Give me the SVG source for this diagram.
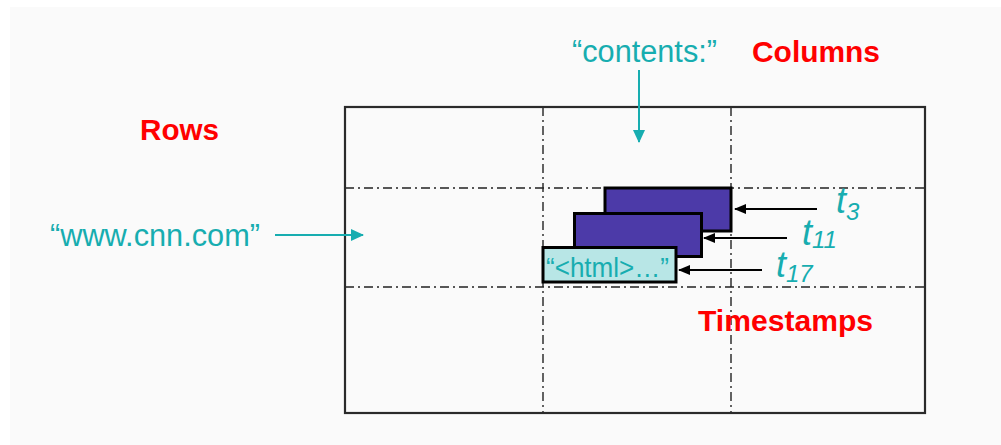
<svg xmlns="http://www.w3.org/2000/svg" width="1001" height="445" viewBox="0 0 1001 445">
  <style>
    .teal { fill: #17adb0; font-family: "Liberation Sans", Arial, sans-serif; }
    .red { fill: #ff0000; font-family: "Liberation Sans", Arial, sans-serif; font-weight: bold; font-size: 30px; }
    .grid { stroke: #222; stroke-width: 1.4; stroke-dasharray: 9 4 2 4; fill: none; }
    .cell { stroke: #000; stroke-width: 3; }
    .blk { stroke: #000; stroke-width: 2; }
    .tl { stroke: #17adb0; stroke-width: 2; }
    .tlab { font-style: italic; font-size: 36px; }
    .sub { font-size: 24px; }
  </style>
  <defs>
    <marker id="ah" markerWidth="12" markerHeight="10" refX="11" refY="5" orient="auto" markerUnits="userSpaceOnUse">
      <path d="M0,0 L12,5 L0,10 Z" fill="#000"/>
    </marker>
    <marker id="ahTeal" markerWidth="13" markerHeight="12" refX="12" refY="6" orient="auto" markerUnits="userSpaceOnUse">
      <path d="M0,0 L13,6 L0,12 Z" fill="#17adb0"/>
    </marker>
  </defs>

  <rect x="0" y="0" width="1001" height="445" fill="#ffffff"/>
  <rect x="10" y="7" width="991" height="438" fill="#fafafa"/>

  <g id="table">
    <line class="grid" x1="345" y1="188" x2="925" y2="188"/>
    <line class="grid" x1="345" y1="287" x2="925" y2="287"/>
    <line class="grid" x1="543" y1="107" x2="543" y2="413"/>
    <line class="grid" x1="731" y1="107" x2="731" y2="413"/>
    <rect x="345" y="107" width="580" height="306" fill="none" stroke="#2a2a2a" stroke-width="2.2"/>
  </g>

  <g id="cell-t3">
    <rect class="cell" x="605" y="188" width="126" height="43" fill="#4c3aa8"/>
  </g>
  <g id="cell-t11">
    <rect class="cell" x="574.5" y="213.5" width="127" height="43" fill="#4c3aa8"/>
  </g>
  <g id="cell-t17">
    <rect class="cell" x="543" y="247.5" width="133" height="34.5" fill="#b8e6e6"/>
    <text class="teal" x="546" y="277" font-size="28" textLength="123" lengthAdjust="spacingAndGlyphs">“&lt;html&gt;…”</text>
  </g>

  <g id="labels">
    <text class="teal" x="572" y="62" font-size="31" textLength="145" lengthAdjust="spacingAndGlyphs">“contents:”</text>
    <text class="red" x="752" y="62" textLength="128" lengthAdjust="spacingAndGlyphs">Columns</text>
    <text class="red" x="140" y="140" textLength="79" lengthAdjust="spacingAndGlyphs">Rows</text>
    <text class="teal" x="50" y="246" font-size="32" textLength="210" lengthAdjust="spacingAndGlyphs">“www.cnn.com”</text>
    <text class="red" x="698" y="331" textLength="175" lengthAdjust="spacingAndGlyphs">Timestamps</text>
    <text class="teal tlab" x="836" y="213">t<tspan class="sub" dy="7">3</tspan></text>
    <text class="teal tlab" x="802" y="245">t<tspan class="sub" dy="3">11</tspan></text>
    <text class="teal tlab" x="776" y="277">t<tspan class="sub" dy="5">17</tspan></text>
  </g>

  <g id="connectors">
    <line class="tl" x1="639" y1="70" x2="639" y2="142" marker-end="url(#ahTeal)"/>
    <line class="tl" x1="275" y1="235" x2="363" y2="235" marker-end="url(#ahTeal)"/>
    <line class="blk" x1="817" y1="209" x2="735" y2="209" marker-end="url(#ah)"/>
    <line class="blk" x1="787" y1="238" x2="704" y2="238" marker-end="url(#ah)"/>
    <line class="blk" x1="762" y1="270" x2="679" y2="270" marker-end="url(#ah)"/>
  </g>
</svg>
